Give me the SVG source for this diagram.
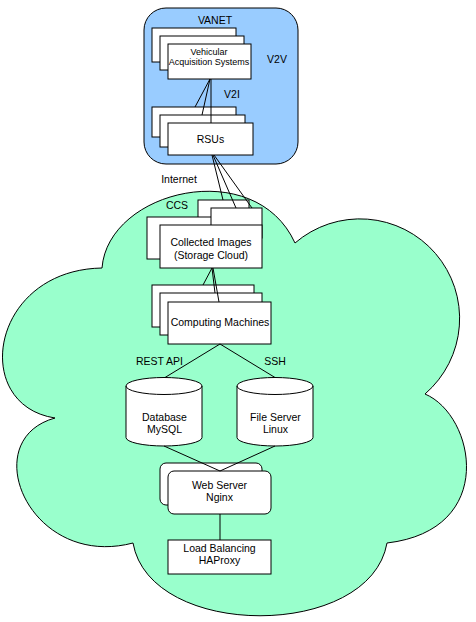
<svg xmlns="http://www.w3.org/2000/svg" width="476" height="622" viewBox="0 0 476 622">
<style>
.b{fill:#fff;stroke:#000;stroke-width:1}
.t{font-family:"Liberation Sans",Arial,sans-serif;font-size:10.5px;fill:#000;text-anchor:middle}
.s{font-size:9px}
.c line{stroke:#000;stroke-width:1}
</style>
<rect width="476" height="622" fill="#fff"/>
<g id="cloud">
<path d="M102,268 C108,190 255,155 295,243 A98,98 0 0 1 425,394 C475,415 498,530 387,543 C370,640 150,640 133,543 C30,570 -25,440 55,418 C-30,405 -10,270 102,268 Z" fill="#99FFCC" stroke="#000" stroke-width="1"/>
<text class="t" x="177" y="209">CCS</text>
</g>
<g id="vanet">
<rect x="144" y="8" width="154" height="156" rx="22" fill="#99CCFF" stroke="#000" stroke-width="1"/>
<text class="t" x="215" y="23.5">VANET</text>
<text class="t" x="277" y="63">V2V</text>
<text class="t" x="232" y="98">V2I</text>
</g>
<text class="t" x="179" y="183">Internet</text>
<g id="vas">
<rect class="b" x="152" y="28" width="84" height="34"/>
<rect class="b" x="160" y="36" width="84" height="34"/>
<rect class="b" x="168" y="44" width="83" height="35"/>
<text class="t s" x="209" y="55">Vehicular</text>
<text class="t s" x="209" y="65">Acquisition Systems</text>
</g>
<g id="rsus">
<rect class="b" x="152" y="107" width="84" height="30"/>
<rect class="b" x="160" y="115" width="85" height="32"/>
<rect class="b" x="168" y="123" width="85" height="32"/>
<text class="t" x="210.5" y="143">RSUs</text>
</g>
<g id="storage">
<rect class="b" x="198" y="200" width="51" height="30"/>
<rect class="b" x="147" y="217" width="100" height="42"/>
<rect class="b" x="211" y="208" width="51" height="30"/>
<rect class="b" x="160" y="225" width="102" height="43"/>
<text class="t" x="211" y="246">Collected Images</text>
<text class="t" x="211" y="259">(Storage Cloud)</text>
</g>
<g id="computing">
<rect class="b" x="152" y="285" width="102" height="42"/>
<rect class="b" x="160" y="293" width="102" height="42"/>
<rect class="b" x="168" y="302" width="103" height="42"/>
<text class="t" x="220" y="326">Computing Machines</text>
</g>
<g id="database">
<path class="b" d="M126,386 A38,8.5 0 0 1 202,386 V437.5 A38,8.5 0 0 1 126,437.5 Z"/>
<path d="M126,386 A38,8.5 0 0 0 202,386" fill="none" stroke="#000"/>
<text class="t" x="164.5" y="421">Database</text>
<text class="t" x="164.5" y="433">MySQL</text>
</g>
<g id="fileserver">
<path class="b" d="M237,386 A38,8.5 0 0 1 313,386 V437.5 A38,8.5 0 0 1 237,437.5 Z"/>
<path d="M237,386 A38,8.5 0 0 0 313,386" fill="none" stroke="#000"/>
<text class="t" x="275.5" y="421">File Server</text>
<text class="t" x="275.5" y="433">Linux</text>
</g>
<g id="webserver">
<rect class="b" x="160" y="463" width="102" height="42" rx="6"/>
<rect class="b" x="168" y="471" width="103" height="43" rx="6"/>
<text class="t" x="219.5" y="489">Web Server</text>
<text class="t" x="219.5" y="501">Nginx</text>
</g>
<g id="loadbalancer">
<rect class="b" x="168" y="540" width="103" height="34"/>
<text class="t" x="219.5" y="552">Load Balancing</text>
<text class="t" x="219.5" y="564">HAProxy</text>
</g>
<g id="labels">
<text class="t" x="159.5" y="365">REST API</text>
<text class="t" x="275" y="365">SSH</text>
</g>
<g class="c" id="connectors">
<line x1="210" y1="79" x2="195" y2="107"/>
<line x1="210" y1="79" x2="202" y2="115"/>
<line x1="211" y1="79" x2="211" y2="123"/>
<line x1="212" y1="155" x2="223" y2="200"/>
<line x1="213" y1="155" x2="236" y2="208"/>
<line x1="214" y1="155" x2="252" y2="208"/>
<line x1="212" y1="268" x2="203" y2="285"/>
<line x1="212" y1="268" x2="215" y2="293"/>
<line x1="213" y1="268" x2="219" y2="302"/>
<line x1="220" y1="344" x2="165" y2="377.5"/>
<line x1="220" y1="344" x2="275" y2="377.5"/>
<line x1="164" y1="446" x2="220" y2="471"/>
<line x1="275" y1="446" x2="220" y2="471"/>
<line x1="220" y1="514" x2="220" y2="540"/>
</g>
</svg>
